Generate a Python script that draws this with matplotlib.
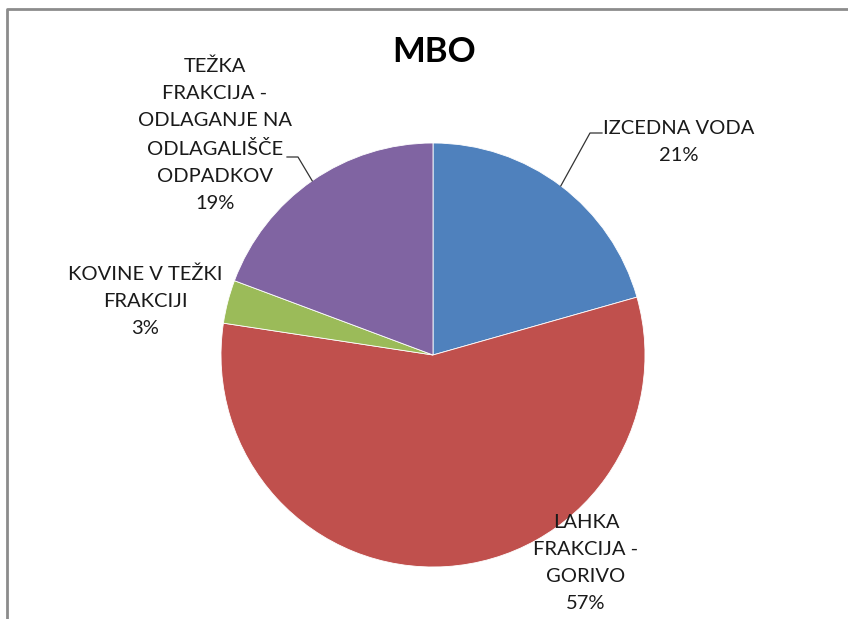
import matplotlib.pyplot as plt
from matplotlib.lines import Line2D
import numpy as np

# Daten
labels = ['IZCEDNA VODA', 'LAHKA\nFRAKCIJA -\nGORIVO', 'KOVINE V TEŽKI\nFRAKCIJI',
          'TEŽKA\nFRAKCIJA -\nODLAGANJE NA\nODLAGALIŠČE\nODPADKOV']
shares = [20.6, 56.8, 3.3, 19.3]
colors = ['#4F81BD', '#C0504D', '#9BBB59', '#8064A2']

W, H = 848, 619
fig = plt.figure(figsize=(W / 100, H / 100), dpi=100)
plt.rcParams['font.family'] = ['Lato', 'DejaVu Sans']


def fx(px):
    return px / W


def fy(py):
    return 1 - py / H


# Pie-Achse (Zentrum ~ (433, 355), Radius ~ 212 px)
cx, cy, r = 433, 355, 212
ax = fig.add_axes([fx(cx - r), fy(cy + r), 2 * r / W, 2 * r / H])
wedges, _ = ax.pie(shares, colors=colors, startangle=90, counterclock=False,
                   radius=1, wedgeprops=dict(edgecolor='white', linewidth=0.6))
ax.set_xlim(-1, 1)
ax.set_ylim(-1, 1)
ax.set_aspect('equal')
ax.axis('off')

# Beschriftungen (Textposition in Pixel)
label_pos = [(679, 142), (586, 563), (145, 301), (215, 135)]
for lab, val, (px, py) in zip(labels, shares, label_pos):
    fig.text(fx(px), fy(py), f'{lab}\n{round(val)}%', ha='center', va='center',
             fontsize=14.5, color='#1a1a1a', linespacing=1.72)

# Leader lines für IZCEDNA VODA und TEŽKA FRAKCIJA
cum = np.cumsum([0] + shares)
for idx, (kx, ky), (ex, ey) in [(0, (590, 133), (602, 133)),
                                (3, (298, 157), (287, 157))]:
    mid = 90 - (cum[idx] + shares[idx] / 2) * 3.6
    sx = cx + r * np.cos(np.radians(mid))
    sy = cy - r * np.sin(np.radians(mid))
    fig.add_artist(Line2D([fx(sx), fx(kx), fx(ex)], [fy(sy), fy(ky), fy(ey)],
                          color='#333333', linewidth=0.9))

# Titel
fig.text(fx(434), fy(52), 'MBO', ha='center', va='center',
         fontsize=25, fontweight='bold', color='black')

# Rahmen (links und oben sichtbar)
fig.add_artist(Line2D([fx(7), fx(7), fx(W)], [0, fy(8.5), fy(8.5)],
                      color='#8c8c8c', linewidth=2))

plt.savefig('out.png', dpi=100)
plt.close()
